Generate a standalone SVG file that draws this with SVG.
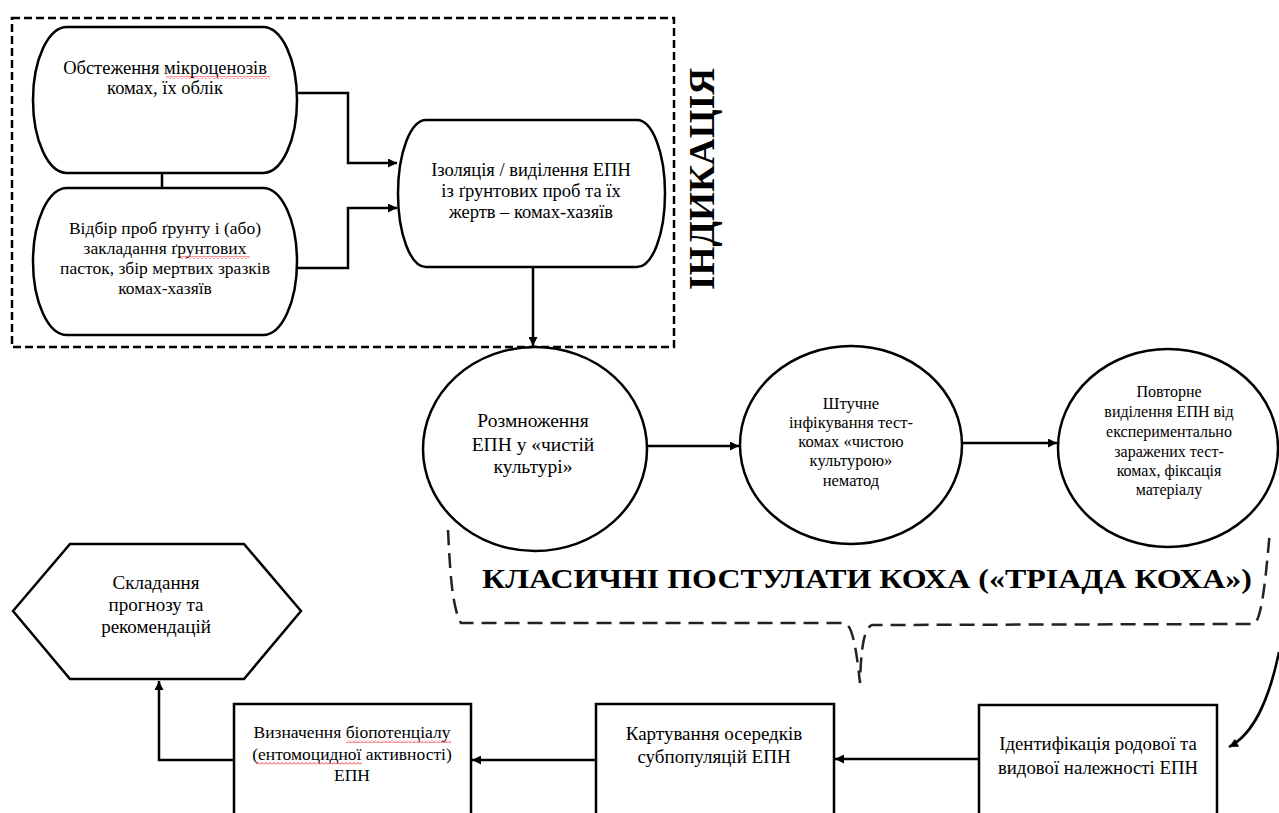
<svg xmlns="http://www.w3.org/2000/svg" width="1279" height="813" viewBox="0 0 1279 813">
<defs>
<style>
.s{fill:#fff;stroke:#000;stroke-width:2.5}
.c{fill:none;stroke:#000;stroke-width:2.5}
.d{fill:none;stroke:#000;stroke-width:2.5;stroke-dasharray:8 4}
.b{fill:none;stroke:#222;stroke-width:2.5;stroke-dasharray:15 8}
.tx{font-family:'Liberation Serif','Tinos','Times New Roman','DejaVu Serif',serif;fill:#000;text-anchor:middle}
.bold{font-weight:bold}
</style>
<marker id="ah" viewBox="0 0 10 10" refX="10" refY="5" markerWidth="10" markerHeight="9" markerUnits="userSpaceOnUse" orient="auto">
<path d="M0,0 L10,5 L0,10 z" fill="#000"/>
</marker>
<pattern id="wave" width="4" height="3" patternUnits="userSpaceOnUse">
<path d="M0,2.5 L2,0.5 L4,2.5" fill="none" stroke="#e00" stroke-width="0.8"/>
</pattern>
</defs>
<rect width="1279" height="813" fill="#fff"/>

<g id="indication-frame">
<rect class="d" x="12" y="18" width="662" height="329"/>
<text class="tx bold" transform="translate(714,179) rotate(-90)" font-size="36" textLength="222" lengthAdjust="spacingAndGlyphs">ІНДИКАЦІЯ</text>
</g>

<g id="connectors">
<line class="c" x1="162" y1="173" x2="162" y2="188" stroke-width="4"/>
<polyline class="c" points="297,93 348,93 348,163 397,163" marker-end="url(#ah)"/>
<polyline class="c" points="297,268 348,268 348,208 397,208" marker-end="url(#ah)"/>
<line class="c" x1="533" y1="267" x2="533" y2="346" marker-end="url(#ah)"/>
<line class="c" x1="647" y1="446" x2="739" y2="446" marker-end="url(#ah)"/>
<line class="c" x1="963" y1="443" x2="1057" y2="443" marker-end="url(#ah)"/>
<path class="c" d="M1279,652 C1268,705 1252,735 1229,747" marker-end="url(#ah)"/>
<line class="c" x1="979" y1="759" x2="835" y2="759" marker-end="url(#ah)"/>
<line class="c" x1="596" y1="760" x2="472" y2="760" marker-end="url(#ah)"/>
<polyline class="c" points="234,760 159,760 159,681" marker-end="url(#ah)"/>
</g>

<g id="n1">
<rect class="s" x="33" y="27" width="264" height="146" rx="34" ry="73"/>
<text class="tx" font-size="18.5" x="165" y="74">Обстеження мікроценозів</text>
<text class="tx" font-size="18.5" x="165" y="94">комах, їх облік</text>
<rect x="166" y="76" width="104" height="3" fill="url(#wave)"/>
</g>

<g id="n2">
<rect class="s" x="33" y="188" width="264" height="147" rx="34" ry="73.5"/>
<text class="tx" font-size="17.5" x="165" y="234">Відбір проб ґрунту і (або)</text>
<text class="tx" font-size="17.5" x="165" y="254">закладання ґрунтових</text>
<text class="tx" font-size="17.5" x="165" y="274">пасток, збір мертвих зразків</text>
<text class="tx" font-size="17.5" x="165" y="294">комах-хазяїв</text>
<rect x="180" y="256" width="70" height="3" fill="url(#wave)"/>
</g>

<g id="n3">
<rect class="s" x="398" y="120" width="267" height="147" rx="28" ry="73.5"/>
<text class="tx" font-size="18.5" x="531" y="176">Ізоляція / виділення ЕПН</text>
<text class="tx" font-size="18.5" x="531" y="197">із ґрунтових проб та їх</text>
<text class="tx" font-size="18.5" x="531" y="218">жертв – комах-хазяїв</text>
</g>

<g id="c1">
<ellipse class="s" cx="535" cy="449" rx="112" ry="102"/>
<text class="tx" font-size="19.5" x="533" y="427">Розмноження</text>
<text class="tx" font-size="19.5" x="533" y="451">ЕПН у «чистій</text>
<text class="tx" font-size="19.5" x="533" y="473">культурі»</text>
</g>

<g id="c2">
<ellipse class="s" cx="851" cy="445" rx="111" ry="99"/>
<text class="tx" font-size="16.5" x="851" y="409">Штучне</text>
<text class="tx" font-size="16.5" x="851" y="428">інфікування тест-</text>
<text class="tx" font-size="16.5" x="851" y="447">комах «чистою</text>
<text class="tx" font-size="16.5" x="851" y="466">культурою»</text>
<text class="tx" font-size="16.5" x="851" y="486">нематод</text>
</g>

<g id="c3">
<ellipse class="s" cx="1168" cy="448" rx="110" ry="99"/>
<text class="tx" font-size="16" x="1169" y="397">Повторне</text>
<text class="tx" font-size="16" x="1169" y="417">виділення ЕПН від</text>
<text class="tx" font-size="16" x="1169" y="437">експериментально</text>
<text class="tx" font-size="16" x="1169" y="457">заражених тест-</text>
<text class="tx" font-size="16" x="1169" y="476">комах, фіксація</text>
<text class="tx" font-size="16" x="1169" y="495">матеріалу</text>
</g>

<g id="koch">
<path class="b" d="M448,530 C450,570 452,608 461,623 L845,623 C852,626 856,645 860,683 C861,648 864,628 872,625 L1254,624 C1262,620 1266,575 1270,530"/>
<text class="tx bold" x="867" y="588" font-size="28" textLength="770" lengthAdjust="spacingAndGlyphs">КЛАСИЧНІ ПОСТУЛАТИ КОХА («ТРІАДА КОХА»)</text>
</g>

<g id="hex">
<polygon class="s" points="13,611 70,544 244,544 301,611 244,679 70,679"/>
<text class="tx" font-size="19" x="156" y="589">Складання</text>
<text class="tx" font-size="19" x="156" y="611">прогнозу та</text>
<text class="tx" font-size="19" x="156" y="633">рекомендацій</text>
</g>

<g id="b1">
<rect class="s" x="234" y="704" width="237" height="130"/>
<text class="tx" font-size="17.5" x="352" y="738">Визначення біопотенціалу</text>
<text class="tx" font-size="17.5" x="352" y="760">(ентомоцидної активності)</text>
<text class="tx" font-size="17.5" x="352" y="781">ЕПН</text>
<rect x="346" y="740" width="105" height="3" fill="url(#wave)"/>
<rect x="256" y="762" width="106" height="3" fill="url(#wave)"/>
</g>

<g id="b2">
<rect class="s" x="596" y="704" width="238" height="130"/>
<text class="tx" font-size="19" x="714" y="740">Картування осередків</text>
<text class="tx" font-size="19" x="714" y="763">субпопуляцій ЕПН</text>
</g>

<g id="b3">
<rect class="s" x="979" y="705" width="238" height="130"/>
<text class="tx" font-size="18.8" x="1098" y="750">Ідентифікація родової та</text>
<text class="tx" font-size="18.8" x="1098" y="774">видової належності ЕПН</text>
</g>
</svg>
